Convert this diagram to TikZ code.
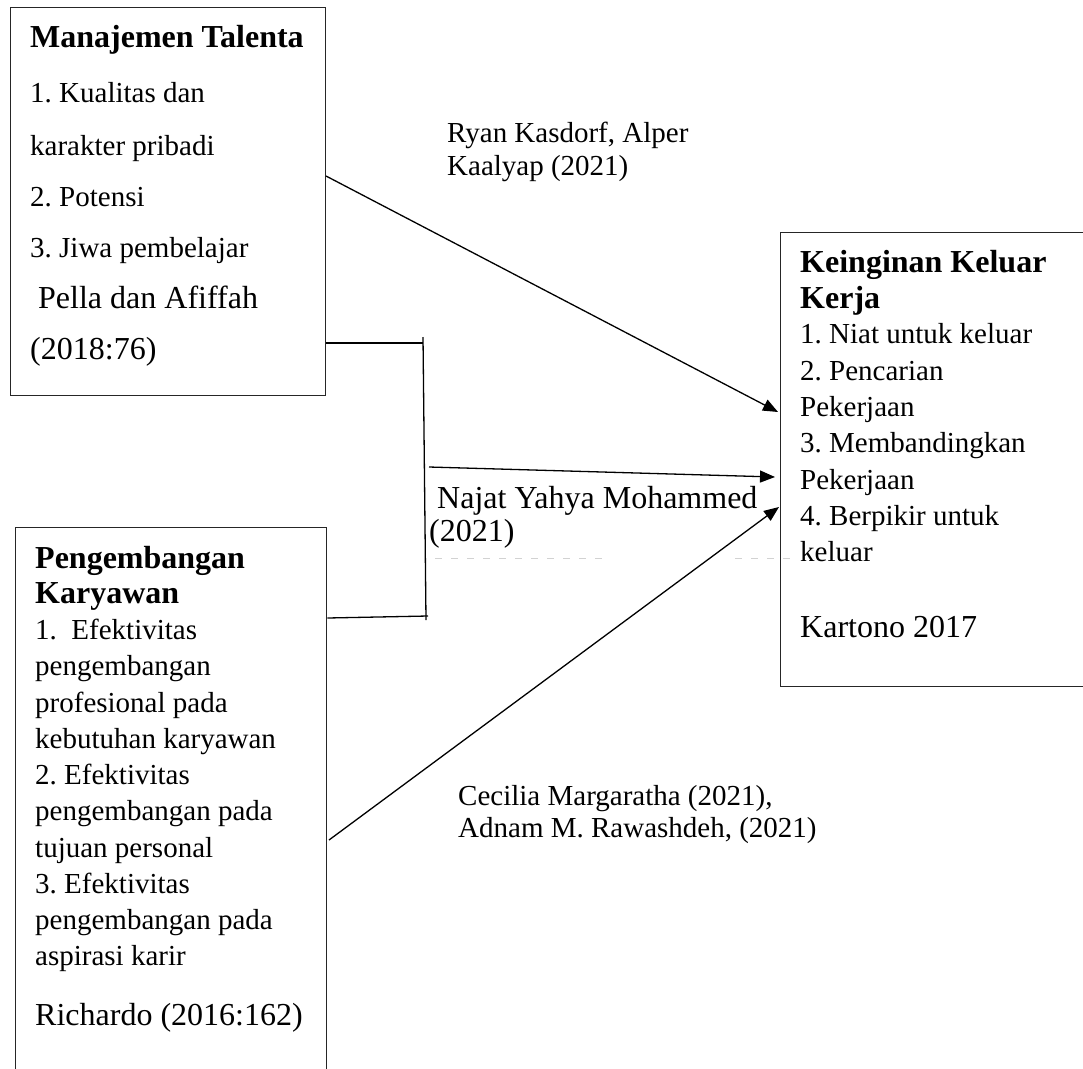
\documentclass[tikz,border=0pt]{standalone}
\usepackage{fontspec}
\setmainfont{Liberation Serif}
\usetikzlibrary{arrows.meta}
\frenchspacing
\tikzset{
  boxnode/.style={draw=black!85, line width=1.4pt, inner sep=0pt, anchor=north west},
  link/.style={line width=1.3pt, black},
  arr/.style={link, -{Triangle[length=15pt,width=12pt]}},
  ts/.style={inner sep=0pt, anchor=base west, font=\fontsize{29}{34}\selectfont},
  tm/.style={inner sep=0pt, anchor=base west, font=\fontsize{32}{37}\selectfont},
  tb/.style={inner sep=0pt, anchor=base west, font=\fontsize{32}{37}\selectfont\bfseries},
  ghost/.style={gray!35, line width=1pt, dash pattern=on 7pt off 9pt}
}
\begin{document}
\begin{tikzpicture}[x=1pt,y=-1pt]
\useasboundingbox (0,0) rectangle (1083,1068);
\clip (0,0) rectangle (1083,1068);
% boxes
\node[boxnode, minimum width=315pt, minimum height=388pt] (b1) at (10,7) {};
\node[boxnode, minimum width=311pt, minimum height=580pt] (b2) at (15,527) {};
\node[boxnode, minimum width=310pt, minimum height=454pt] (b3) at (780,232) {};
% box 1 text
\node[tb] (m0) at (30,47) {Manajemen Talenta};
\node[ts] (m1) at (30,102) {1. Kualitas dan};
\node[ts] (m2) at (30,155) {karakter pribadi};
\node[ts] (m3) at (30,206) {2. Potensi};
\node[ts] (m4) at (30,257) {3. Jiwa pembelajar};
\node[tm] (m5) at (38,308) {Pella dan Afiffah};
\node[tm] (m6) at (30,359) {(2018:76)};
% box 2 text
\node[tb] (p0) at (35,568) {Pengembangan};
\node[tb] (p1) at (35,603) {Karyawan};
\node[ts] (p2) at (35,639) {1.\ \ Efektivitas};
\node[ts] (p3) at (35,675) {pengembangan};
\node[ts] (p4) at (35,712) {profesional pada};
\node[ts] (p5) at (35,748) {kebutuhan karyawan};
\node[ts] (p6) at (35,784) {2. Efektivitas};
\node[ts] (p7) at (35,820) {pengembangan pada};
\node[ts] (p8) at (35,857) {tujuan personal};
\node[ts] (p9) at (35,893) {3. Efektivitas};
\node[ts] (p10) at (35,929) {pengembangan pada};
\node[ts] (p11) at (35,965) {aspirasi karir};
\node[tm] (p12) at (35,1025) {Richardo (2016:162)};
% box 3 text
\node[tb] (k0) at (800,272) {Keinginan Keluar};
\node[tb] (k1) at (800,308) {Kerja};
\node[ts] (k2) at (800,343) {1. Niat untuk keluar};
\node[ts] (k3) at (800,380) {2. Pencarian};
\node[ts] (k4) at (800,416) {Pekerjaan};
\node[ts] (k5) at (800,452) {3. Membandingkan};
\node[ts] (k6) at (800,489) {Pekerjaan};
\node[ts] (k7) at (800,525) {4. Berpikir untuk};
\node[ts] (k8) at (800,561) {keluar};
\node[tm] (k9) at (800,637) {Kartono 2017};
% labels
\node[ts] (l1) at (447,142) {Ryan Kasdorf, Alper};
\node[ts] (l2) at (447,175) {Kaalyap (2021)};
\node[tm] (l3) at (437,508) {Najat Yahya Mohammed};
\node[tm] (l4) at (429,541) {(2021)};
\node[ts] (l5) at (458,805) {Cecilia Margaratha (2021),};
\node[ts] (l6) at (458,837) {Adnam M. Rawashdeh, (2021)};
% faint clipped text remnants
\draw[ghost] (435,558) -- (603,558);
\draw[ghost] (735,558) -- (790,558);
% bracket
\coordinate (jt) at (423,337);
\coordinate (jb) at (426,620);
\draw[link] (b1.east |- 0,343) -- (423,343);
\draw[link] (jt) -- (jb);
\draw[link] (b2.east |- 0,618) -- (428,616);
% arrows
\coordinate (a1s) at (326,176);
\coordinate (a1e) at (778,412);
\coordinate (a2s) at (429,467);
\coordinate (a2e) at (775,477);
\coordinate (a3s) at (329,840);
\coordinate (a3e) at (779,507);
\draw[arr] (a1s) -- (a1e);
\draw[arr] (a2s) -- (a2e);
\draw[arr] (a3s) -- (a3e);
\end{tikzpicture}
\end{document}
